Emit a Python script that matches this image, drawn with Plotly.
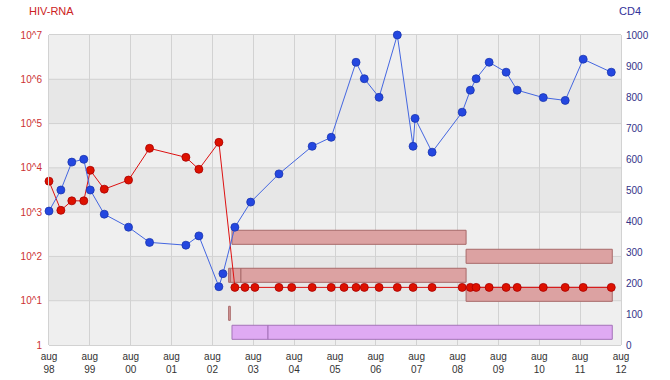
import plotly.graph_objects as go
import pandas as pd

# ---- data ----
rna_dates = ["1998-08-01", "1998-11-15", "1999-02-21", "1999-06-08", "1999-08-05",
             "1999-12-08", "2000-07-12", "2001-01-16", "2001-12-07", "2002-04-02",
             "2002-09-28",
             "2003-02-18", "2003-05-19", "2003-08-16", "2004-03-18", "2004-07-10",
             "2005-01-09", "2005-06-28", "2005-10-21", "2006-02-05", "2006-04-20",
             "2006-08-30", "2007-02-09", "2007-06-30", "2007-12-17", "2008-09-11",
             "2008-11-23", "2009-01-14", "2009-05-10", "2009-10-09", "2010-01-16",
             "2010-09-06", "2011-03-21", "2011-08-29", "2012-05-06"]
rna_values = [5000, 1100, 1800, 1800, 8800, 3300, 5300, 27600, 17300, 9300, 37700,
              20, 20, 20, 20, 20, 20, 20, 20, 20, 20, 20, 20, 20, 20, 20,
              20, 20, 20, 20, 20, 20, 20, 20, 20]

cd4_dates = ["1998-08-01", "1998-11-15", "1999-02-21", "1999-06-08", "1999-08-05",
             "1999-12-08", "2000-07-12", "2001-01-16", "2001-12-07", "2002-04-02",
             "2002-09-28", "2002-11-03", "2003-02-18", "2003-07-09", "2004-03-18",
             "2005-01-09", "2005-06-28", "2006-02-05", "2006-04-20", "2006-08-30",
             "2007-02-09", "2007-06-30", "2007-07-18", "2007-12-17", "2008-09-11",
             "2008-11-23", "2009-01-14", "2009-05-10", "2009-10-09", "2010-01-16",
             "2010-09-06", "2011-03-21", "2011-08-29", "2012-05-06"]
cd4_values = [432, 500, 590, 599, 500, 422, 380, 331, 322, 352,
              188, 230, 380, 461, 552, 641, 670, 912, 859, 799,
              1000, 641, 731, 622, 751, 822, 859, 912, 880, 822,
              798, 789, 922, 880]

# therapy bars (lane 0 = bottom)
red_bar_lane = [5, 4, 3, 3, 3, 2, 1]
red_bar_start = ["2003-01-23", "2008-10-16", "2002-12-24", "2003-01-08", "2003-04-13",
                 "2008-10-16", "2002-12-24"]
red_bar_end = ["2008-10-16", "2012-05-15", "2003-01-08", "2003-04-13", "2008-10-16",
               "2012-05-15", "2003-01-08"]
purple_bar_lane = [0, 0]
purple_bar_start = ["2003-01-23", "2003-12-11"]
purple_bar_end = ["2003-12-11", "2012-05-15"]

x_range = ["1998-08-01", "2012-08-01"]
x_tick_dates = [f"{y}-08-01" for y in range(1998, 2013)]
x_tick_text = [f"aug<br>{str(y)[2:]}" for y in range(1998, 2013)]
rna_tick_vals = [1, 10, 100, 1000, 1e4, 1e5, 1e6, 1e7]
rna_tick_text = ["1", "10^1", "10^2", "10^3", "10^4", "10^5", "10^6", "10^7"]
cd4_tick_vals = list(range(0, 1001, 100))


def durations(starts, ends):
    s = pd.to_datetime(pd.Series(starts))
    e = pd.to_datetime(pd.Series(ends))
    return ((e - s).dt.total_seconds() * 1000).tolist()


FONT = "Arial, Liberation Sans, sans-serif"
GRID = "#d2d2d2"
fig = go.Figure()

# bars on subplot x/y (drawn first, under the lines)
fig.add_trace(go.Bar(
    orientation="h", y=red_bar_lane, base=red_bar_start,
    x=durations(red_bar_start, red_bar_end), width=0.74,
    marker=dict(color="#dca2a2", line=dict(color="#a86a6a", width=1)),
    xaxis="x", yaxis="y", hoverinfo="skip", showlegend=False))
fig.add_trace(go.Bar(
    orientation="h", y=purple_bar_lane, base=purple_bar_start,
    x=durations(purple_bar_start, purple_bar_end), width=0.74,
    marker=dict(color="#dfaaf3", line=dict(color="#a473b9", width=1)),
    xaxis="x", yaxis="y", hoverinfo="skip", showlegend=False))

# HIV-RNA on its own (same-domain) subplot x2/y2
fig.add_trace(go.Scatter(
    x=rna_dates, y=rna_values, mode="lines+markers", xaxis="x2", yaxis="y2",
    line=dict(color="#dd1111", width=1),
    marker=dict(size=8, color="#dd1100", line=dict(color="#aa0000", width=0.8)),
    cliponaxis=False, hoverinfo="skip", showlegend=False))
# CD4 on subplot x3/y3
fig.add_trace(go.Scatter(
    x=cd4_dates, y=cd4_values, mode="lines+markers", xaxis="x3", yaxis="y3",
    line=dict(color="#4466e0", width=1),
    marker=dict(size=8, color="#2447e0", line=dict(color="#1a36b0", width=0.8)),
    cliponaxis=False, hoverinfo="skip", showlegend=False))

# background, alternating decade bands and horizontal grid lines
shapes = [dict(type="rect", xref="paper", yref="paper", x0=0, x1=1, y0=0, y1=1,
               fillcolor="#efefef", line=dict(width=0), layer="below")]
for k in (1, 3, 5):
    shapes.append(dict(type="rect", xref="paper", yref="paper", x0=0, x1=1,
                       y0=k / 7, y1=(k + 1) / 7, fillcolor="#e7e7e7",
                       line=dict(width=0), layer="below"))
for k in range(1, 7):
    shapes.append(dict(type="line", xref="paper", yref="paper", x0=0, x1=1,
                       y0=k / 7, y1=k / 7, line=dict(color=GRID, width=1),
                       layer="below"))

hidden_x = dict(type="date", range=x_range, visible=False, showgrid=False,
                zeroline=False, fixedrange=True, automargin=False)

fig.update_layout(
    width=670, height=380,
    margin=dict(l=49, r=49, t=35, b=35, autoexpand=False),
    paper_bgcolor="white", plot_bgcolor="rgba(0,0,0,0)",
    barmode="overlay", showlegend=False, hovermode=False,
    font=dict(family=FONT, size=10),
    shapes=shapes,
    xaxis=dict(type="date", range=x_range, anchor="y",
               tickvals=x_tick_dates, ticktext=x_tick_text,
               tickfont=dict(color="#333333", size=10),
               showgrid=True, gridcolor=GRID, gridwidth=1,
               showline=True, linecolor=GRID, mirror=True,
               zeroline=False, ticks="", ticklabelstandoff=2,
               fixedrange=True, automargin=False),
    xaxis2=dict(hidden_x, anchor="y2"),
    xaxis3=dict(hidden_x, anchor="y3"),
    yaxis=dict(range=[-0.668, 15.647], visible=False, showgrid=False,
               zeroline=False, fixedrange=True, automargin=False, anchor="x"),
    yaxis2=dict(type="log", range=[0, 7], anchor="x2", side="left",
                tickvals=rna_tick_vals, ticktext=rna_tick_text,
                tickfont=dict(color="#cc3333", size=10),
                showgrid=False, showline=True, linecolor=GRID, mirror=True,
                zeroline=False, ticks="", ticklabelstandoff=4, fixedrange=True,
                automargin=False),
    yaxis3=dict(range=[0, 1000], anchor="x3", side="right",
                tickvals=cd4_tick_vals,
                tickfont=dict(color="#333388", size=10),
                showgrid=False, zeroline=False, showline=False,
                ticks="", ticklabelstandoff=4, fixedrange=True, automargin=False),
    annotations=[
        dict(text="HIV-RNA", xref="paper", yref="paper", x=(27 - 49) / 572, y=1.079,
             xanchor="left", yanchor="middle", showarrow=False,
             font=dict(color="#cc2222", size=11, family=FONT)),
        dict(text="CD4", xref="paper", yref="paper", x=(643 - 49) / 572, y=1.077,
             xanchor="right", yanchor="middle", showarrow=False,
             font=dict(color="#333399", size=11, family=FONT)),
    ],
)

fig.write_html("out.html", config={"displayModeBar": False, "staticPlot": True},
               post_script="document.body.style.margin='0px';")
